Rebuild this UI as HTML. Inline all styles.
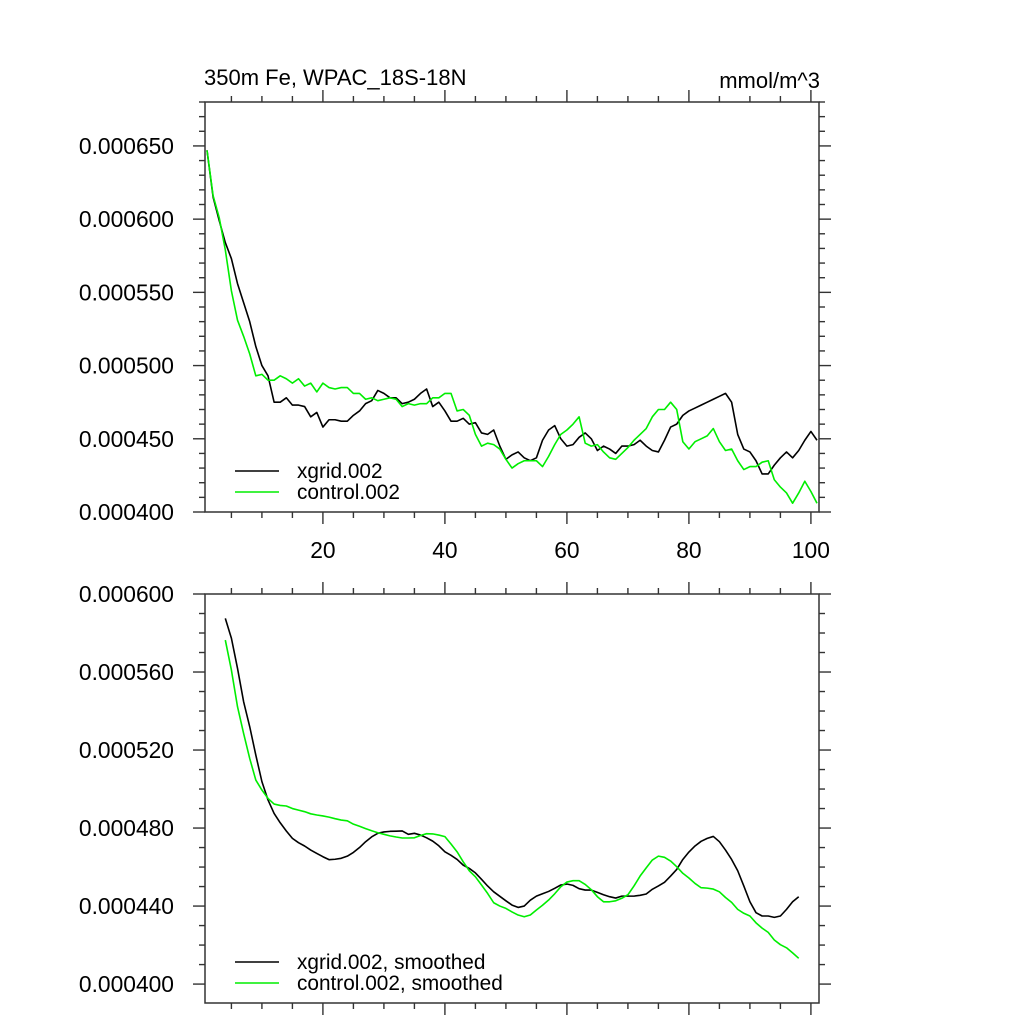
<!DOCTYPE html>
<html><head><meta charset="utf-8"><style>
html,body{margin:0;padding:0;background:#fff;}
svg{display:block;font-family:"Liberation Sans",sans-serif;}
</style></head><body>
<svg id="chart" width="1024" height="1024" viewBox="0 0 1024 1024">
<text x="204" y="85" font-size="22">350m Fe, WPAC_18S-18N</text>
<text x="820" y="88" font-size="22" text-anchor="end">mmol/m^3</text>
<g id="top"></g>
<g id="bot"></g>
</svg>
<script>
// Data values in units of 1e-6 mmol/m^3
const topX0 = 1;
const xgridRaw = [647,615,599,584,573,556,543,530,513,500,493,475,475,478,473,473,472,465,468,458,463,463,462,462,466,469,474,476,483,481,478,478,474,475,477,481,484,472,475,469,462,462,464,460,461,454,453,456,445,436,
439,441,437,435,437,449,456,459,450,445,446,451,454,450,442,445,443,440,445,445,446,449,445,442,441,449,458,460,466,469,471,473,475,477,479,481,475,453,443,441,435,426,426,432,437,441,437,442,449,455,449];
const controlRaw = [647,616,601,579,551,531,520,508,493,494,490,490,493,491,488,491,486,488,482,488,485,484,485,485,481,481,477,478,476,477,478,477,472,474,473,474,474,478,478,481,481,469,470,466,453,445,447,446,443,436,
430,433,435,435,435,431,438,446,453,456,460,465,447,445,446,441,437,436,440,444,449,453,457,465,470,470,475,470,448,443,448,450,452,457,448,442,443,435,429,431,431,434,435,422,417,413,406,413,421,414,406];
const smoothX0 = 4;
const xgridSmooth = [587.5,577.3,561.9,544.8,532,517.4,503.8,494.4,487.5,482.7,478.5,474.7,472.5,470.8,468.7,467,465.3,463.8,464,464.5,465.6,467.5,470,473,475.5,477.3,478,478.3,478.4,478.5,476.8,477.3,476.4,475,473.3,470.9,467.8,466,463.9,461,459.3,457,453.7,450.3,447.3,445,442.7,440.5,439.3,
440,443,445.1,446.3,447.5,449.1,450.8,451.3,450.6,448.9,448.2,448.2,447,445.8,444.8,444.1,445.1,445.1,445.1,445.5,446.2,448.6,450.3,452.2,455.4,458.8,463.9,467.7,470.8,473.2,474.7,475.7,473,468.7,463.9,458.1,450.3,442.2,436.6,434.9,434.9,434.2,434.9,438.3,442.2,444.8];
const controlSmooth = [576.4,561,542.2,528.5,515.7,504.6,499.5,495.2,492.3,491.6,491.3,490,489.2,488.4,487.3,486.7,486.2,485.6,484.8,484.1,483.7,482,480.9,479.7,478.6,477.6,476.8,476,475.4,474.9,474.9,475,476.2,477.1,477,476.4,475.6,471.8,467.8,462.7,458.1,455,450.8,446.5,441.7,440,438.8,437,435.4,
434.5,435.4,438,440.4,443.1,446.3,449.9,452.3,453,453,451.1,448.4,444.8,442.2,442.2,442.7,444,445.8,450.3,455.4,459.6,463.6,465.6,465,463.1,460.2,456.8,454.4,451.6,449.4,449.2,448.7,447.3,444.4,441.9,438.3,436.3,434.9,431.4,428.7,426.5,422.6,420.2,418.6,416,413.2];
const xTickLabels = [20,40,60,80,100];
const topYTicks = [400,450,500,550,600,650];
const botYTicks = [400,440,480,520,560,600];

const NS = "http://www.w3.org/2000/svg";
const L = 205, R = 819;
function xs(x){ return L + (x-0.67)*6.1; }
const P1 = {top:102, bot:512, vmin:400, vmax:680, g:document.getElementById('top')};
const P2 = {top:594, bot:1003, vmin:390.3, vmax:600, g:document.getElementById('bot')};
function ys(p,v){ return p.bot - (v-p.vmin)/(p.vmax-p.vmin)*(p.bot-p.top); }
function mk(tag, attrs, parent){
  const e = document.createElementNS(NS, tag);
  for (const k in attrs) e.setAttribute(k, attrs[k]);
  parent.appendChild(e); return e;
}
function line(p, x1,y1,x2,y2, name){
  const e = mk('line',{x1:x1,y1:y1,x2:x2,y2:y2,stroke:'#333','stroke-width':1.4}, p.g);
  
  
}
function axes(p, yMajor, yMinorStep, labelsX, labelsY){
  const fr = mk('rect',{x:L,y:p.top,width:R-L,height:p.bot-p.top,fill:'none',stroke:'#333','stroke-width':1.5}, p.g);
  
  
  for (let x=5; x<=100; x+=5){
    const maj = x%20===0, len = maj?12:6, px = xs(x);
    line(p, px, p.bot, px, p.bot+len, 'x-tick');
    line(p, px, p.top, px, p.top-len, 'x-tick-top');
  }
  for (let v=Math.ceil(p.vmin/yMinorStep)*yMinorStep; v<=p.vmax+0.01; v+=yMinorStep){
    const maj = yMajor.indexOf(v)>=0, len = maj?12:6, py = ys(p,v);
    line(p, L, py, L-len, py, 'y-tick');
    line(p, R, py, R+len, py, 'y-tick-right');
  }
  if (labelsY) yMajor.forEach(v=>{
    const t = mk('text',{x:174,y:ys(p,v)+8,'font-size':22.8,'text-anchor':'end'}, p.g);
    t.textContent = (v/1e6).toFixed(6);
    
    
  });
  if (labelsX) xTickLabels.forEach(x=>{
    const t = mk('text',{x:xs(x),y:p.bot+46,'font-size':22.8,'text-anchor':'middle'}, p.g);
    t.textContent = x;
    
    
  });
}
function series(p, arr, x0, color, name){
  const d = arr.map((v,i)=>(i?'L':'M')+xs(x0+i).toFixed(2)+','+ys(p,v).toFixed(2)).join('');
  const e = mk('path',{d:d,fill:'none',stroke:color,'stroke-width':1.6,'stroke-linejoin':'round'}, p.g);
  
  
}
function legend(p, y, items){
  items.forEach((it,i)=>{
    const yy = y + i*21;
    const l = mk('line',{x1:235,y1:yy,x2:279,y2:yy,stroke:it[1],'stroke-width':1.6}, p.g);
    
    
    const t = mk('text',{x:297,y:yy+7,'font-size':20.8}, p.g);
    t.textContent = it[0];
    
    
  });
}
axes(P1, topYTicks, 10, true, true);
series(P1, xgridRaw, topX0, '#000', 'xgrid-line');
series(P1, controlRaw, topX0, '#00ee00', 'control-line');
legend(P1, 471, [['xgrid.002','#000'],['control.002','#00ee00']]);

axes(P2, botYTicks, 10, false, true);
series(P2, xgridSmooth, smoothX0, '#000', 'xgrid-smoothed-line');
series(P2, controlSmooth, smoothX0, '#00ee00', 'control-smoothed-line');
legend(P2, 962, [['xgrid.002, smoothed','#000'],['control.002, smoothed','#00ee00']]);
</script>
</body></html>
